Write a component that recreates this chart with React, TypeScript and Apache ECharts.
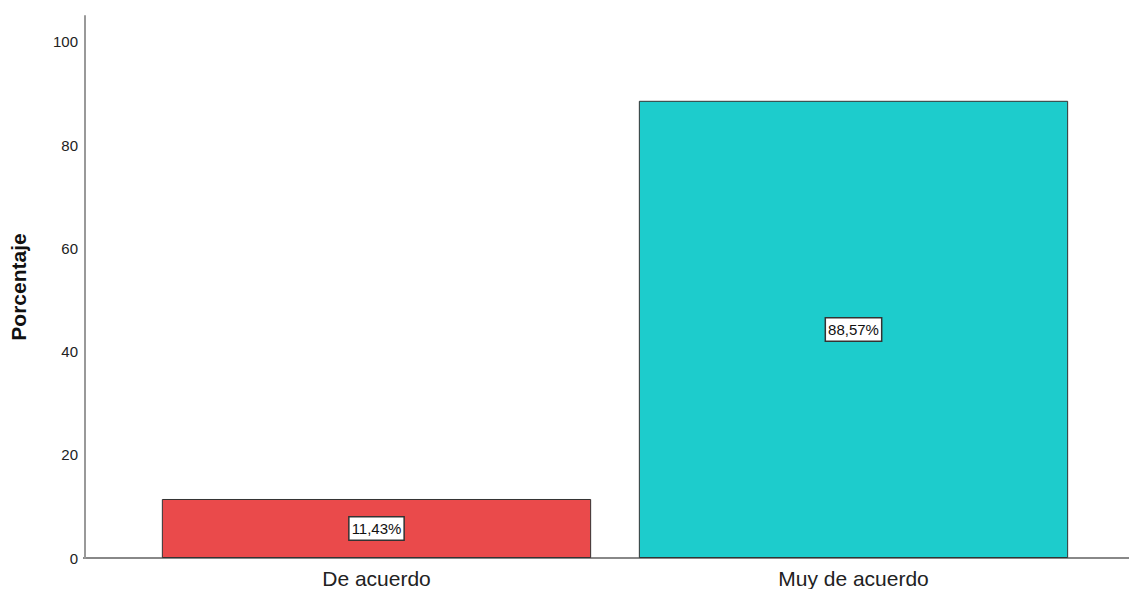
import React, { useEffect, useRef } from "react";
import * as echarts from "echarts";

const categories = ["De acuerdo", "Muy de acuerdo"];
const values = [11.43, 88.57];
const colors = ["#EA4A4B", "#1DCCCC"];
const yTicks = [0, 20, 40, 60, 80, 100];

export default function App() {
  const ref = useRef<HTMLDivElement>(null);
  useEffect(() => {
    const chart = echarts.init(ref.current!, null, { renderer: "svg" });
    const font = "'Liberation Sans', Arial, sans-serif";
    chart.setOption({
      animation: false,
      textStyle: { fontFamily: font },
      grid: { left: 136, right: 37, top: 16, bottom: 31, containLabel: false },
      xAxis: {
        type: "category",
        data: categories,
        axisLine: { show: false },
        axisTick: { show: false },
        axisLabel: { fontSize: 21, color: "#222", margin: 10, fontFamily: font },
      },
      yAxis: {
        type: "value",
        min: 0,
        max: 105,
        interval: 20,
        offset: 53,
        name: "Porcentaje",
        nameLocation: "middle",
        nameGap: 56,
        nameTextStyle: { fontSize: 21, fontWeight: "bold", color: "#111", fontFamily: font },
        axisLine: { show: true, lineStyle: { color: "#999", width: 2 } },
        axisTick: { show: false },
        splitLine: { show: false },
        axisLabel: {
          fontSize: 15,
          color: "#222",
          margin: 7,
          fontFamily: font,
          formatter: (v: number) => (yTicks.includes(v) ? String(v) : ""),
        },
      },
      graphic: [
        {
          type: "line",
          shape: { x1: 83, y1: 558, x2: 1129, y2: 558 },
          style: { stroke: "#888", lineWidth: 2 },
          z: 0,
        },
      ],
      series: [
        {
          type: "bar",
          barCategoryGap: "10%",
          data: values.map((v, i) => ({
            value: v,
            itemStyle: { color: colors[i], borderColor: "#333", borderWidth: 1 },
          })),
          label: {
            show: true,
            position: "inside",
            formatter: (p: any) => p.value.toFixed(2).replace(".", ",") + "%",
            fontSize: 15,
            color: "#111",
            fontFamily: font,
            backgroundColor: "#fff",
            borderColor: "#333",
            borderWidth: 1.5,
            padding: [4, 2, 3, 2],
          },
          z: 2,
        },
      ],
    });
    return () => chart.dispose();
  }, []);
  return <div ref={ref} style={{ width: 1129, height: 589, position: "absolute", left: 0, top: 0 }} />;
}
